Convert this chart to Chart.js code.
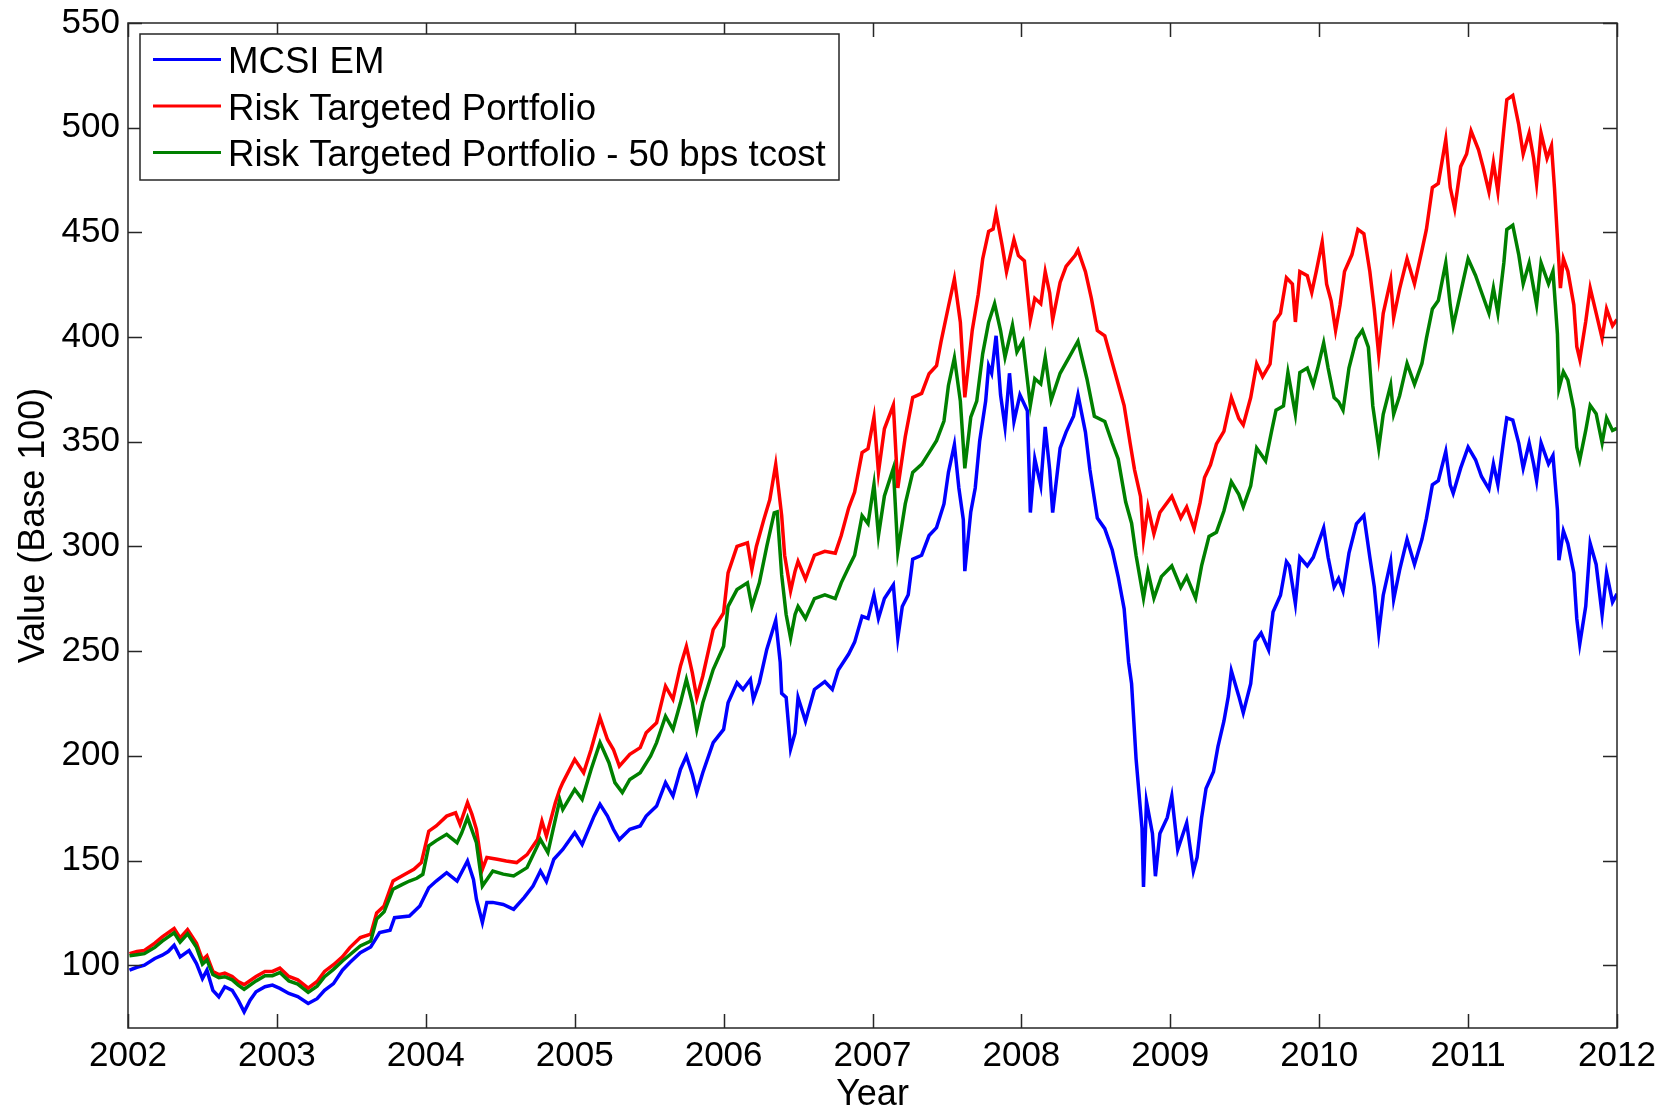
<!DOCTYPE html>
<html>
<head>
<meta charset="utf-8">
<script src="https://cdn.jsdelivr.net/npm/chart.js@4/dist/chart.umd.min.js"></script>
<style>
html,body{margin:0;padding:0;background:#fff;}
#wrap{width:1671px;height:1109px;}
</style>
</head>
<body>
<div id="wrap"><canvas id="c" width="1671" height="1109"></canvas></div>
<script>
// ---------------- DATA ----------------
const seriesLabels = ['MCSI EM', 'Risk Targeted Portfolio', 'Risk Targeted Portfolio - 50 bps tcost'];
const xTickYears = [2002, 2003, 2004, 2005, 2006, 2007, 2008, 2009, 2010, 2011, 2012];
const yTickValues = [100, 150, 200, 250, 300, 350, 400, 450, 500, 550];

const msciYears = [2002.01,2002.06,2002.11,2002.18,2002.23,2002.27,2002.31,2002.35,2002.41,2002.46,2002.50,2002.53,2002.57,2002.61,2002.65,2002.70,2002.74,2002.78,2002.82,2002.86,2002.92,2002.97,2003.02,2003.08,2003.14,2003.21,2003.27,2003.32,2003.38,2003.44,2003.49,2003.56,2003.63,2003.69,2003.76,2003.79,2003.89,2003.96,2004.02,2004.07,2004.14,2004.21,2004.28,2004.32,2004.34,2004.38,2004.41,2004.45,2004.52,2004.59,2004.66,2004.72,2004.77,2004.81,2004.86,2004.92,2005.00,2005.05,2005.13,2005.17,2005.22,2005.26,2005.30,2005.37,2005.44,2005.48,2005.55,2005.61,2005.66,2005.71,2005.75,2005.79,2005.82,2005.86,2005.93,2006.00,2006.03,2006.09,2006.13,2006.18,2006.20,2006.24,2006.29,2006.35,2006.38,2006.39,2006.42,2006.45,2006.48,2006.50,2006.55,2006.61,2006.68,2006.73,2006.77,2006.84,2006.88,2006.93,2006.97,2007.01,2007.04,2007.08,2007.14,2007.17,2007.20,2007.24,2007.27,2007.33,2007.38,2007.43,2007.48,2007.51,2007.55,2007.58,2007.61,2007.62,2007.66,2007.69,2007.72,2007.76,2007.78,2007.80,2007.83,2007.86,2007.89,2007.92,2007.95,2007.99,2008.04,2008.06,2008.09,2008.13,2008.16,2008.19,2008.21,2008.26,2008.30,2008.35,2008.38,2008.43,2008.46,2008.51,2008.56,2008.61,2008.65,2008.69,2008.72,2008.74,2008.77,2008.81,2008.82,2008.84,2008.88,2008.90,2008.93,2008.98,2009.01,2009.05,2009.11,2009.155,2009.18,2009.21,2009.24,2009.29,2009.32,2009.36,2009.39,2009.41,2009.46,2009.49,2009.54,2009.57,2009.61,2009.66,2009.69,2009.74,2009.78,2009.80,2009.84,2009.87,2009.92,2009.96,2009.99,2010.03,2010.06,2010.10,2010.13,2010.16,2010.20,2010.25,2010.30,2010.34,2010.37,2010.40,2010.43,2010.48,2010.50,2010.54,2010.59,2010.64,2010.69,2010.72,2010.76,2010.80,2010.85,2010.88,2010.90,2010.95,2011.00,2011.05,2011.09,2011.14,2011.17,2011.20,2011.24,2011.26,2011.30,2011.34,2011.37,2011.41,2011.44,2011.46,2011.49,2011.54,2011.57,2011.60,2011.61,2011.64,2011.67,2011.71,2011.73,2011.75,2011.79,2011.82,2011.86,2011.90,2011.93,2011.97,2012.00];
const msciValues = [97.6,99.0,100.0,103.2,104.8,106.5,109.5,104.0,107.0,100.8,93.6,97.6,88.0,84.9,89.7,88.0,83.3,77.7,83.3,87.3,89.7,90.5,88.9,86.5,85.0,81.7,84.0,88.0,91.2,97.6,101.3,106.0,108.7,115.6,116.7,122.7,123.5,128.3,137.0,140.2,144.2,140.2,149.8,141.0,131.5,120.4,130.0,130.0,129.0,126.7,132.3,137.8,145.0,140.0,150.6,155.3,163.3,157.7,171.2,176.8,171.2,164.9,160.0,164.9,166.5,171.2,176.0,187.2,180.8,193.5,199.9,191.1,182.4,191.9,206.3,212.6,225.3,234.9,231.7,236.5,227.0,234.9,250.8,264.7,244.8,229.8,227.9,203.3,210.9,227.9,216.6,231.7,235.4,231.7,241.0,248.6,254.3,266.6,265.6,276.9,265.6,275.1,281.6,256.2,271.3,276.9,293.9,295.8,305.2,309.0,320.3,335.4,348.6,327.9,312.8,288.2,316.5,327.9,350.5,369.4,386.3,382.7,400.6,372.4,357.1,382.7,359.7,372.4,364.8,316.2,341.8,329.0,357.1,336.6,316.2,346.9,354.6,362.2,372.4,354.6,336.6,313.6,308.5,298.3,285.5,270.2,244.7,234.4,198.7,165.5,137.4,178.2,162.9,142.5,162.9,170.6,180.8,155.2,168.0,145.0,151.5,170.3,184.4,192.4,204.4,216.5,228.5,240.6,228.5,220.5,234.5,254.6,258.6,250.6,268.7,276.7,292.7,290.7,272.7,294.8,290.7,294.8,300.8,308.8,294.8,280.7,284.7,278.7,296.8,310.8,314.8,294.8,280.7,258.6,276.7,292.7,274.7,288.7,303.4,291.4,303.4,313.4,329.4,331.4,345.4,329.4,325.4,337.4,347.4,341.4,333.4,327.4,339.4,329.4,351.4,361.4,360.4,349.4,337.4,349.4,339.4,331.4,349.4,339.4,343.4,317.4,293.4,307.4,301.4,287.4,265.4,253.4,271.4,301.4,291.4,267.4,287.4,273.4,277.4];

const riskYears = [2002.01,2002.06,2002.11,2002.18,2002.23,2002.31,2002.35,2002.40,2002.46,2002.50,2002.53,2002.57,2002.61,2002.65,2002.70,2002.74,2002.78,2002.86,2002.92,2002.97,2003.02,2003.08,2003.14,2003.21,2003.27,2003.32,2003.38,2003.44,2003.49,2003.56,2003.63,2003.67,2003.72,2003.78,2003.86,2003.92,2003.97,2004.02,2004.07,2004.14,2004.20,2004.23,2004.28,2004.31,2004.34,2004.38,2004.41,2004.48,2004.54,2004.61,2004.68,2004.75,2004.78,2004.81,2004.87,2004.90,2004.92,2005.00,2005.06,2005.11,2005.17,2005.22,2005.26,2005.30,2005.37,2005.44,2005.48,2005.55,2005.61,2005.66,2005.71,2005.75,2005.79,2005.82,2005.86,2005.93,2006.00,2006.03,2006.09,2006.16,2006.19,2006.22,2006.27,2006.31,2006.35,2006.39,2006.41,2006.45,2006.48,2006.50,2006.55,2006.61,2006.68,2006.75,2006.79,2006.84,2006.88,2006.93,2006.97,2007.01,2007.04,2007.08,2007.14,2007.17,2007.22,2007.27,2007.33,2007.38,2007.43,2007.46,2007.51,2007.55,2007.59,2007.62,2007.67,2007.71,2007.74,2007.78,2007.81,2007.83,2007.87,2007.90,2007.95,2007.98,2008.02,2008.06,2008.09,2008.13,2008.16,2008.19,2008.21,2008.26,2008.30,2008.36,2008.38,2008.43,2008.47,2008.51,2008.56,2008.61,2008.65,2008.69,2008.73,2008.76,2008.80,2008.82,2008.85,2008.89,2008.93,2009.01,2009.07,2009.11,2009.16,2009.20,2009.23,2009.27,2009.31,2009.36,2009.41,2009.46,2009.49,2009.54,2009.58,2009.62,2009.67,2009.70,2009.74,2009.78,2009.82,2009.84,2009.87,2009.92,2009.95,2009.98,2010.02,2010.05,2010.08,2010.11,2010.14,2010.17,2010.22,2010.26,2010.30,2010.34,2010.37,2010.40,2010.43,2010.48,2010.50,2010.54,2010.59,2010.64,2010.69,2010.72,2010.76,2010.80,2010.85,2010.88,2010.91,2010.95,2010.99,2011.02,2011.07,2011.10,2011.14,2011.17,2011.20,2011.24,2011.26,2011.30,2011.34,2011.37,2011.41,2011.44,2011.46,2011.49,2011.53,2011.56,2011.58,2011.60,2011.62,2011.64,2011.67,2011.71,2011.73,2011.75,2011.79,2011.82,2011.86,2011.90,2011.93,2011.97,2012.00];
const riskValues = [105.5,106.5,107.0,110.5,113.5,117.5,113.0,117.0,110.5,102.5,104.5,97.0,95.5,96.2,94.6,92.2,90.7,94.6,97.0,97.0,98.6,94.6,93.0,89.0,92.2,97.0,100.2,104.0,108.4,113.2,114.8,125.0,128.3,140.2,143.4,145.8,149.0,164.0,166.5,171.2,172.8,167.3,177.6,172.0,164.9,145.8,151.4,150.6,149.8,149.0,152.8,160.0,168.8,161.7,177.6,184.0,187.2,198.3,191.9,203.0,218.2,207.8,203.0,195.1,200.7,203.9,211.0,215.8,233.3,227.0,242.8,252.3,239.6,227.7,238.0,260.3,268.3,287.4,300.0,301.7,289.0,300.0,312.8,322.3,339.2,314.7,295.8,278.8,288.2,292.9,284.4,295.8,297.7,296.8,305.2,318.4,326.0,344.8,346.7,361.8,335.4,356.2,367.5,327.9,352.4,371.2,373.1,382.5,386.3,397.7,414.6,427.8,407.1,371.2,403.3,420.3,437.3,450.5,451.6,459.3,444.0,431.2,446.6,438.9,436.4,408.2,418.5,415.9,431.2,421.0,408.2,426.1,433.8,438.9,441.5,431.2,418.5,403.1,400.6,387.8,377.6,367.3,349.4,336.6,323.9,303.4,318.8,306.0,316.2,323.9,313.6,318.8,308.5,320.9,332.9,339.0,349.0,355.0,371.1,361.1,358.0,371.1,387.2,381.1,387.2,407.2,411.3,428.3,425.3,407.2,431.3,429.3,421.3,431.3,445.4,425.3,417.3,403.2,415.3,431.3,439.4,451.4,449.3,431.3,413.3,391.2,411.3,427.3,409.3,423.0,437.4,425.4,441.4,451.4,471.4,473.4,494.4,471.4,461.4,481.4,487.4,498.4,489.4,481.4,469.4,483.4,469.4,499.4,513.4,515.4,501.4,487.4,497.4,485.4,473.4,497.4,485.4,491.4,471.4,447.4,423.4,437.4,431.4,415.4,395.4,389.4,407.4,423.4,411.4,399.4,413.4,405.4,408.4];

const tcostYears = [2002.01,2002.06,2002.11,2002.18,2002.23,2002.31,2002.35,2002.40,2002.46,2002.50,2002.53,2002.57,2002.61,2002.65,2002.70,2002.74,2002.78,2002.86,2002.92,2002.97,2003.02,2003.08,2003.14,2003.21,2003.27,2003.32,2003.38,2003.44,2003.49,2003.56,2003.63,2003.67,2003.72,2003.78,2003.84,2003.89,2003.94,2003.98,2004.02,2004.07,2004.14,2004.21,2004.24,2004.28,2004.34,2004.38,2004.45,2004.52,2004.59,2004.68,2004.77,2004.82,2004.88,2004.90,2004.92,2005.00,2005.05,2005.11,2005.17,2005.23,2005.27,2005.32,2005.37,2005.44,2005.51,2005.55,2005.61,2005.66,2005.71,2005.75,2005.79,2005.82,2005.86,2005.93,2006.00,2006.03,2006.09,2006.16,2006.19,2006.24,2006.29,2006.34,2006.36,2006.39,2006.42,2006.45,2006.48,2006.50,2006.55,2006.61,2006.68,2006.75,2006.79,2006.84,2006.88,2006.93,2006.97,2007.01,2007.04,2007.08,2007.14,2007.17,2007.22,2007.27,2007.33,2007.38,2007.43,2007.48,2007.51,2007.55,2007.59,2007.62,2007.66,2007.70,2007.74,2007.78,2007.82,2007.86,2007.89,2007.94,2007.97,2008.01,2008.06,2008.09,2008.13,2008.16,2008.20,2008.26,2008.32,2008.38,2008.44,2008.49,2008.56,2008.61,2008.65,2008.70,2008.74,2008.77,2008.82,2008.85,2008.89,2008.94,2009.01,2009.07,2009.11,2009.17,2009.21,2009.26,2009.31,2009.36,2009.41,2009.46,2009.49,2009.54,2009.58,2009.64,2009.68,2009.71,2009.76,2009.79,2009.84,2009.87,2009.92,2009.96,2009.99,2010.03,2010.06,2010.10,2010.13,2010.16,2010.20,2010.25,2010.29,2010.33,2010.36,2010.40,2010.43,2010.48,2010.50,2010.54,2010.59,2010.64,2010.69,2010.72,2010.76,2010.80,2010.85,2010.88,2010.90,2010.95,2011.00,2011.05,2011.09,2011.14,2011.17,2011.20,2011.24,2011.26,2011.30,2011.34,2011.37,2011.41,2011.44,2011.46,2011.49,2011.54,2011.57,2011.60,2011.61,2011.64,2011.67,2011.71,2011.73,2011.75,2011.79,2011.82,2011.86,2011.90,2011.93,2011.97,2012.00];
const tcostValues = [104.5,105.0,105.5,108.5,111.5,115.5,111.0,115.0,108.5,100.5,102.5,95.5,94.0,94.5,93.0,90.5,88.5,92.5,95.0,95.0,96.5,92.5,91.0,87.0,90.0,94.5,98.0,102.0,105.0,109.2,111.5,122.0,125.5,136.3,138.5,140.2,141.5,143.4,157.0,159.5,162.5,158.5,163.0,170.5,158.5,137.8,145.0,143.5,142.6,146.6,160.0,153.8,172.8,179.0,174.4,184.0,179.2,193.5,206.3,196.7,187.2,182.4,188.7,191.9,199.9,206.3,218.9,212.6,225.3,236.5,225.3,212.6,225.3,241.2,252.3,271.4,279.4,282.6,271.4,282.6,300.0,316.0,316.5,286.4,267.5,256.2,267.5,271.3,265.6,275.1,276.9,275.1,282.6,290.1,295.8,314.7,310.9,329.7,305.2,324.1,337.3,297.7,320.3,335.4,339.2,344.8,350.5,359.9,376.9,390.1,369.4,337.3,361.8,369.4,392.0,407.1,415.9,403.1,390.3,405.7,392.9,398.0,367.3,380.1,377.6,390.3,369.9,382.7,390.3,398.0,380.1,362.2,359.7,349.4,341.8,321.3,311.1,295.8,275.3,288.1,275.3,285.6,290.7,280.4,285.6,275.3,290.7,304.8,306.8,316.9,330.9,324.9,318.9,328.9,347.0,340.9,355.0,365.1,367.1,383.1,363.1,383.1,385.2,377.1,385.2,397.2,385.2,371.1,369.1,365.1,385.2,399.2,403.2,395.2,367.1,347.0,363.1,377.1,363.1,372.0,387.4,377.4,387.4,399.4,413.4,417.4,435.4,415.4,405.4,421.4,437.4,429.4,421.4,411.4,423.4,411.4,435.4,451.4,453.4,439.4,425.4,435.4,423.4,415.4,435.4,425.4,431.4,401.4,375.4,383.4,379.4,365.4,347.4,341.4,355.4,367.4,363.4,349.4,361.4,355.4,356.4];

// ---------------- CHART ----------------
const FONT = "'Liberation Sans', Arial, Helvetica, sans-serif";
const toPoints = (xs, ys) => xs.map((x, i) => ({x: x, y: ys[i]}));

const framePlugin = {
  id: 'matlabFrame',
  afterDraw(chart) {
    const ctx = chart.ctx;
    const {left, right, top, bottom} = chart.chartArea;
    const xs = chart.scales.x, ys = chart.scales.y;
    const opt = chart.options.plugins.matlabFrame;
    ctx.save();
    ctx.strokeStyle = opt.color;
    ctx.lineWidth = opt.lineWidth;
    ctx.strokeRect(left, top, right - left, bottom - top);
    ctx.beginPath();
    const L = opt.tickLength;
    xs.ticks.forEach(t => {
      const p = Math.round(xs.getPixelForValue(t.value)) + 0.5;
      ctx.moveTo(p, bottom); ctx.lineTo(p, bottom - L);
      ctx.moveTo(p, top); ctx.lineTo(p, top + L);
    });
    ys.ticks.forEach(t => {
      const p = Math.round(ys.getPixelForValue(t.value)) + 0.5;
      ctx.moveTo(left, p); ctx.lineTo(left + L, p);
      ctx.moveTo(right, p); ctx.lineTo(right - L, p);
    });
    ctx.stroke();

    // legend box
    const lg = opt.legend;
    const bx = left + lg.dx, by = top + lg.dy;
    ctx.fillStyle = '#fff';
    ctx.fillRect(bx, by, lg.w, lg.h);
    ctx.strokeStyle = opt.color;
    ctx.lineWidth = 1.5;
    ctx.strokeRect(bx, by, lg.w, lg.h);
    ctx.font = lg.fontSize + 'px ' + FONT;
    ctx.textAlign = 'left';
    ctx.textBaseline = 'alphabetic';
    chart.data.datasets.forEach((ds, i) => {
      const base = by + lg.firstBaseline + i * lg.rowGap;
      const ly = base - lg.lineAbove;
      ctx.strokeStyle = ds.borderColor;
      ctx.lineWidth = 3;
      ctx.beginPath();
      ctx.moveTo(bx + lg.lineX0, ly);
      ctx.lineTo(bx + lg.lineX1, ly);
      ctx.stroke();
      ctx.fillStyle = '#000';
      ctx.fillText(ds.label, bx + lg.textX, base);
    });
    ctx.restore();
  }
};

new Chart(document.getElementById('c'), {
  type: 'line',
  data: {
    datasets: [
      {label: seriesLabels[0], data: toPoints(msciYears, msciValues), borderColor: '#0000FF', order: 3},
      {label: seriesLabels[1], data: toPoints(riskYears, riskValues), borderColor: '#FF0000', order: 2},
      {label: seriesLabels[2], data: toPoints(tcostYears, tcostValues), borderColor: '#008000', order: 1}
    ]
  },
  options: {
    responsive: false,
    animation: false,
    devicePixelRatio: 1,
    layout: {padding: {top: 23, right: 54, left: 0, bottom: 0}},
    elements: {
      point: {radius: 0},
      line: {borderWidth: 3.5, tension: 0, fill: false}
    },
    plugins: {
      legend: {display: false},
      tooltip: {enabled: false},
      matlabFrame: {
        color: '#262626', lineWidth: 1.5, tickLength: 14,
        legend: {dx: 12, dy: 11, w: 699, h: 146, fontSize: 36.6, firstBaseline: 39, rowGap: 46.5, lineAbove: 13.5, lineX0: 13, lineX1: 81, textX: 88}
      }
    },
    scales: {
      x: {
        type: 'linear',
        min: 2002, max: 2012,
        grid: {display: false, drawTicks: false},
        border: {display: false},
        afterBuildTicks: s => { s.ticks = xTickYears.map(v => ({value: v})); },
        afterFit: s => { s.height = 81; },
        ticks: {
          color: '#000', padding: 7, maxRotation: 0, autoSkip: false,
          font: {family: FONT, size: 35},
          callback: v => String(v)
        },
        title: {display: true, text: 'Year', color: '#000', font: {family: FONT, size: 36, lineHeight: 0.8}, padding: {top: 0, bottom: 0}}
      },
      y: {
        type: 'linear',
        min: 70, max: 550,
        grid: {display: false, drawTicks: false},
        border: {display: false},
        afterBuildTicks: s => { s.ticks = yTickValues.map(v => ({value: v})); },
        afterFit: s => { s.width = 128; },
        ticks: {
          color: '#000', padding: 8, autoSkip: false,
          font: {family: FONT, size: 35, lineHeight: 0.8},
          callback: v => String(v)
        },
        title: {display: true, text: 'Value (Base 100)', color: '#000', font: {family: FONT, size: 36, lineHeight: 0.9}, padding: {top: 18, bottom: 0}}
      }
    }
  },
  plugins: [framePlugin]
});
</script>
</body>
</html>
